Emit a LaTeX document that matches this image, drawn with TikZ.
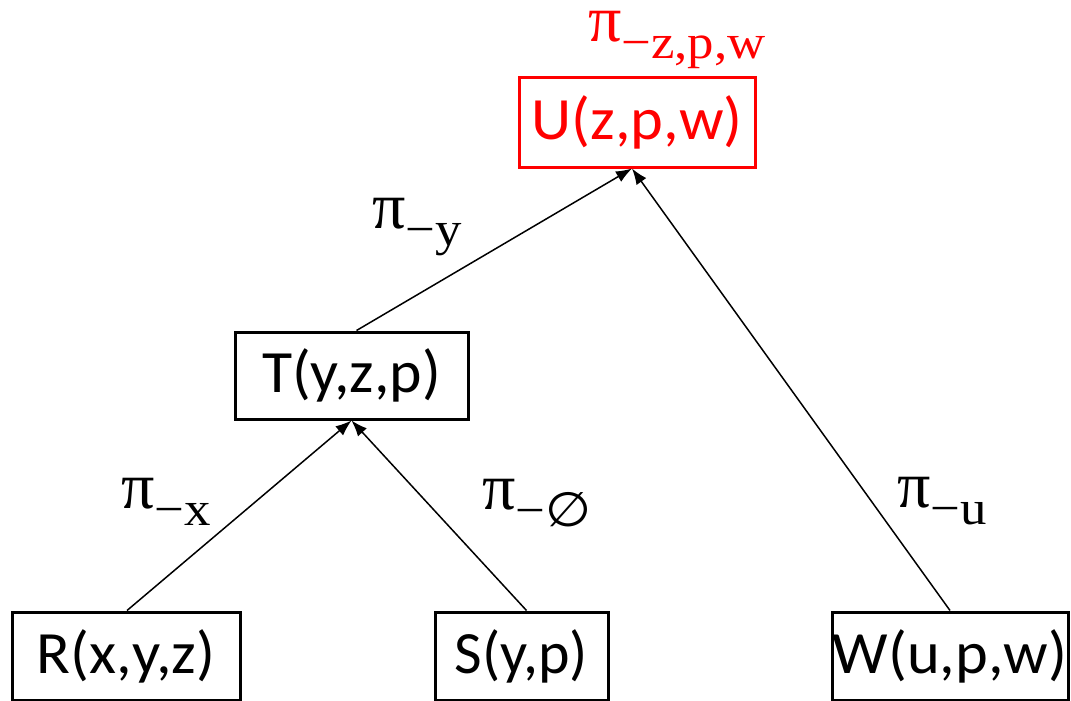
\documentclass[tikz,border=0pt]{standalone}
\usepackage{fontspec}
\usepackage{graphicx}
\setmainfont{Carlito}
\newfontfamily\pifont{Liberation Serif}
\newfontfamily\pisym{DejaVu Sans}
\usetikzlibrary{arrows.meta,calc}
\tikzset{
  rel/.style={draw=black, line width=3pt, minimum height=88pt, inner sep=0pt, font=\fontsize{60}{66}\selectfont},
  conn/.style={line width=1.5pt, -{Latex[length=16pt,width=12pt]}},
  plabel/.style={inner sep=0pt, anchor=base west, font=\pifont\fontsize{66}{70}\selectfont},
}
\newcommand{\sx}[2]{\scalebox{#1}[1]{#2}}
\newcommand{\sub}[1]{\raisebox{-17pt}{\fontsize{48}{50}\selectfont\scalebox{1.1}[1]{#1}}}
\begin{document}
\begin{tikzpicture}[x=1pt,y=-1pt]
\useasboundingbox (0,0) rectangle (1071,701);
\node[rel, draw=red, text=red, minimum width=236pt, minimum height=89pt] (U) at (637,122.5) {\sx{1.04}{U(z,p,w)}};
\node[rel, minimum width=233pt, minimum height=87pt] (T) at (351.5,375.5) {\sx{1.03}{T(y,z,p)}};
\node[rel, minimum width=228pt] (R) at (126,656) {\sx{1.04}{R(x,y,z)}};
\node[rel, minimum width=173pt] (S) at (521.5,656) {S(y,p)};
\node[rel, minimum width=236pt] (W) at (950,656) {\sx{1.04}{W(u,p,w)}};
\coordinate (Uin) at ($(U.south)+(-5,0)$);
\draw[conn] ($(R.north)+(1,0)$) -- (T.south);
\draw[conn] ($(S.north)+(5,0)$) -- (T.south);
\draw[conn] ($(T.north)+(5,0)$) -- (Uin);
\draw[conn] (W.north) -- (Uin);
\node[plabel, text=red] (lU) at (588,42) {π\sub{−z,p,w}};
\node[plabel] (lT) at (372,228) {π\sub{−y}};
\node[plabel] (lR) at (121,508) {π\sub{−x}};
\node[plabel] (lS) at (482,509) {π\sub{−{\pisym ∅}}};
\node[plabel] (lW) at (897,507) {π\sub{−u}};
\end{tikzpicture}
\end{document}
